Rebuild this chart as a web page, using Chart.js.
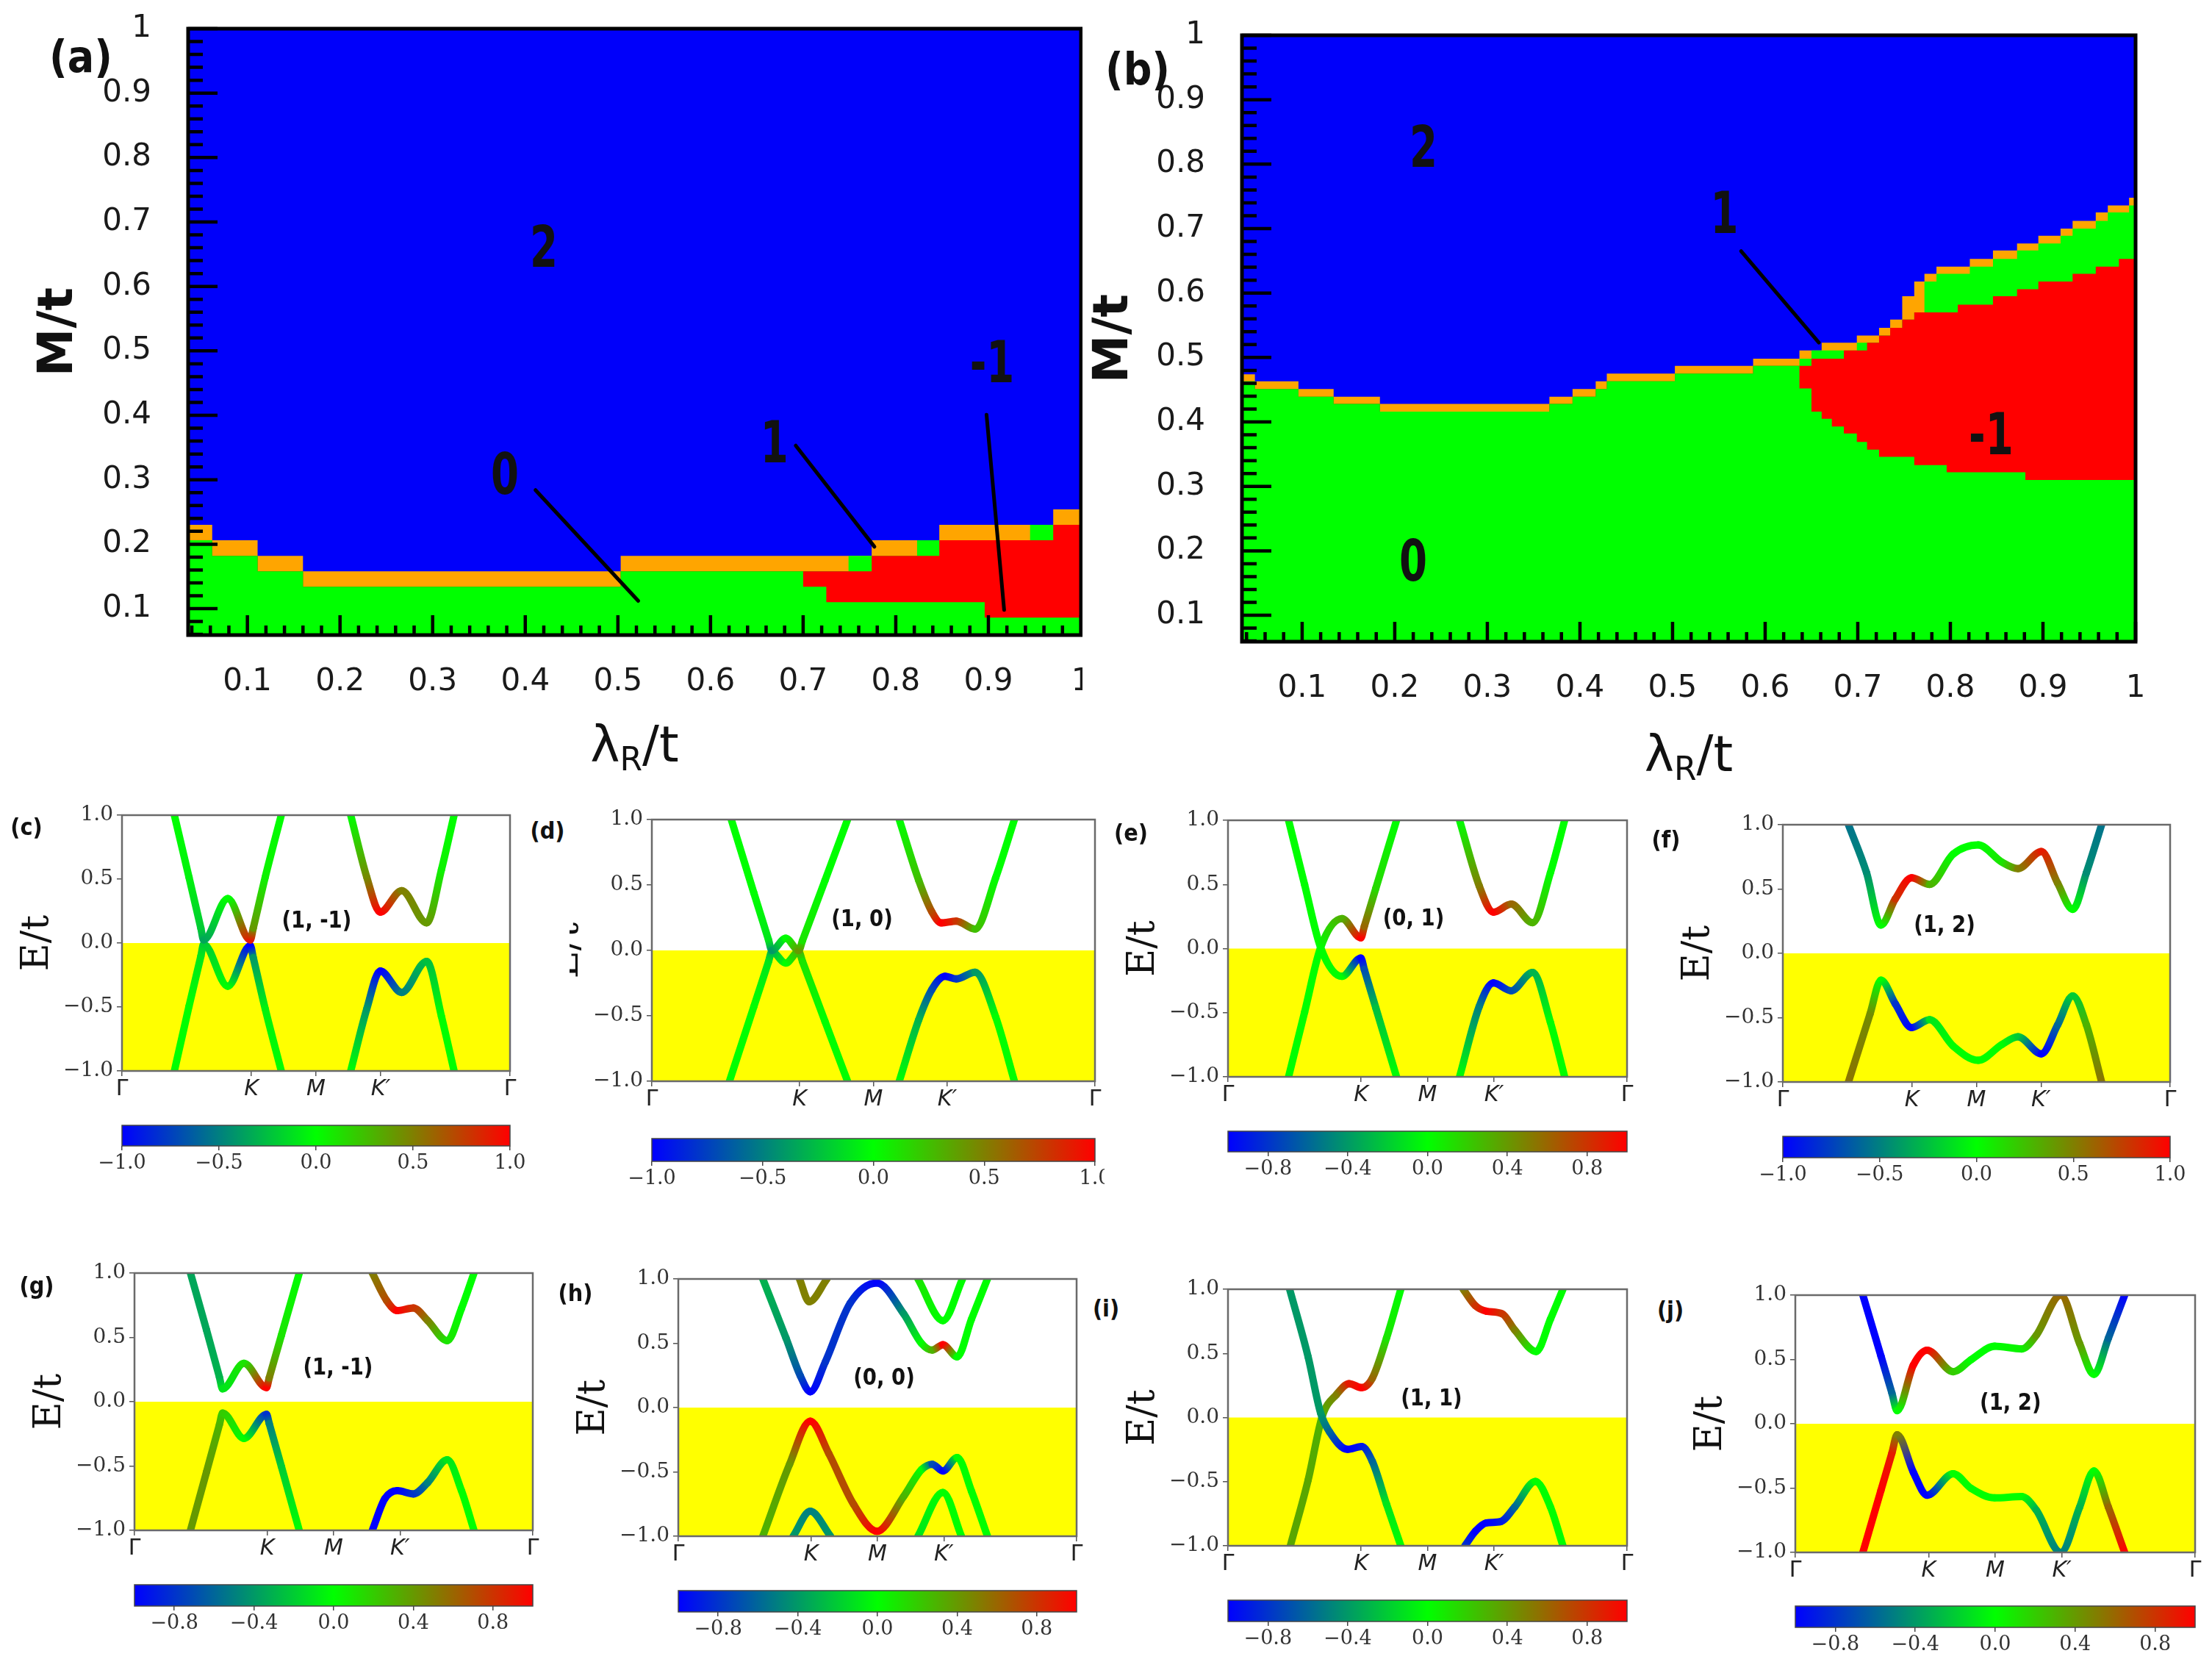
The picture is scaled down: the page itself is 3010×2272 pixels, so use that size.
<!DOCTYPE html>
<html>
<head>
<meta charset="utf-8">
<title>Chern phase diagrams and band structures</title>
<script src="https://cdn.jsdelivr.net/npm/chart.js@4.4.1/dist/chart.umd.min.js"></script>
<style>
  html, body { margin: 0; background: #fff; }
  #fig { position: relative; width: 3010px; height: 2272px; overflow: hidden; background: #fff; }
  #fig canvas { position: absolute; }
  .clip { position: absolute; overflow: hidden; }
  .tag { position: absolute; font-family: 'DejaVu Sans', sans-serif; font-weight: bold; line-height: 1;
         color: #111; white-space: nowrap; transform: translate(-50%, -50%) scaleX(0.9); }
</style>
</head>
<body>
<div id="fig"></div>
<script>
// ---------------- phase diagrams: column edges on lambda_R/t, and where each phase ends on M/t ----------------
const lambdaTicks = [0.1, 0.2, 0.3, 0.4, 0.5, 0.6, 0.7, 0.8, 0.9, 1];
const massTicks = [0.1, 0.2, 0.3, 0.4, 0.5, 0.6, 0.7, 0.8, 0.9, 1];
const massMax = [1.0];

// (a)
const aEdges     = [0.036, 0.062, 0.111, 0.160, 0.503, 0.700, 0.725, 0.749, 0.774, 0.823, 0.847, 0.896, 0.945, 0.970, 1.0];
const aC1Top     = [0.230, 0.206, 0.182, 0.158, 0.182, 0.182, 0.182, 0.182, 0.206, 0.206, 0.230, 0.230, 0.230, 0.254];
const aC0Top     = [0.206, 0.182, 0.158, 0.134, 0.158, 0.158, 0.158, 0.182, 0.182, 0.206, 0.206, 0.206, 0.230, 0.230];
const aCm1Top    = [0.206, 0.182, 0.158, 0.134, 0.158, 0.158, 0.158, 0.158, 0.182, 0.182, 0.206, 0.206, 0.206, 0.230];
const aCm1Bottom = [0.206, 0.182, 0.158, 0.134, 0.158, 0.134, 0.110, 0.110, 0.110, 0.110, 0.110, 0.086, 0.086, 0.086];
const aLeaders = [[[0.411, 0.284], [0.522, 0.112]], [[0.692, 0.353], [0.777, 0.196]], [[0.898, 0.401], [0.917, 0.098]]];
const aNotes = [['2', 0.42, 0.654], ['0', 0.378, 0.301], ['1', 0.669, 0.350], ['-1', 0.904, 0.474]];

// (b)
const bEdges = [0.035, 0.049, 0.096, 0.134, 0.184, 0.367, 0.392, 0.417, 0.429, 0.5025, 0.587,
  0.637, 0.650, 0.661, 0.672, 0.685, 0.699, 0.710, 0.723, 0.735, 0.748,
  0.761, 0.772, 0.785, 0.796, 0.808, 0.821, 0.846, 0.872, 0.881, 0.895,
  0.919, 0.932, 0.957, 0.970, 0.982, 0.993, 1.0];
const bC1Top = [0.474, 0.463, 0.451, 0.439, 0.428, 0.439, 0.451, 0.463, 0.475, 0.487, 0.498,
  0.511, 0.511, 0.523, 0.523, 0.523, 0.534, 0.534, 0.546, 0.559, 0.595,
  0.618, 0.630, 0.641, 0.641, 0.641, 0.653, 0.666, 0.677, 0.677, 0.689,
  0.700, 0.712, 0.725, 0.736, 0.736, 0.748];
const bC0Top = [0.463, 0.451, 0.439, 0.428, 0.416, 0.428, 0.439, 0.451, 0.463, 0.475, 0.487,
  0.498, 0.511, 0.511, 0.511, 0.511, 0.523, 0.523, 0.534, 0.546, 0.559,
  0.570, 0.618, 0.630, 0.630, 0.630, 0.641, 0.653, 0.666, 0.666, 0.677,
  0.689, 0.700, 0.712, 0.725, 0.725, 0.736];
const bCm1Top = [0.463, 0.451, 0.439, 0.428, 0.416, 0.428, 0.439, 0.451, 0.463, 0.475, 0.487,
  0.487, 0.498, 0.498, 0.498, 0.511, 0.511, 0.523, 0.534, 0.546, 0.559,
  0.570, 0.570, 0.570, 0.570, 0.582, 0.582, 0.595, 0.606, 0.606, 0.618,
  0.618, 0.630, 0.641, 0.641, 0.653, 0.653];
const bCm1Bottom = [0.463, 0.451, 0.439, 0.428, 0.416, 0.428, 0.439, 0.451, 0.463, 0.475, 0.487,
  0.452, 0.416, 0.405, 0.393, 0.382, 0.369, 0.357, 0.346, 0.346, 0.346,
  0.333, 0.333, 0.333, 0.322, 0.322, 0.322, 0.322, 0.322, 0.310, 0.310,
  0.310, 0.310, 0.310, 0.310, 0.310, 0.310];
const bLeaders = [[[0.574, 0.665], [0.658, 0.523]]];
const bNotes = [['2', 0.231, 0.819], ['0', 0.22, 0.177], ['1', 0.556, 0.716], ['-1', 0.844, 0.373]];

// ---------------- band structures: [k along Γ-K-M-K'-Γ, E/t, spin colour value] ----------------
const kTicks = [0, 2, 3, 4, 6];
const kLabels = ['Γ', 'K', 'M', 'K′', 'Γ'];
const eTicks = [-1, -0.5, 0, 0.5, 1];
const kPathEnds = [0, 6];
const fermiLevel = 0;
const cbarTicksWide = [-1, -0.5, 0, 0.5, 1];
const cbarTicksFine = [-0.8, -0.4, 0, 0.4, 0.8];

const c1 = [[0.81,1.0,0],[1.036,0.515,-0.05],[1.22,0.115,-0.2],[1.262,0.024,-0.35],[1.636,0.347,0],[1.984,0.024,0.9],[2.03,0.118,0.4],[2.215,0.515,0.05],[2.463,1.0,0]];
const c2 = [[0.81,-1.0,0],[1.036,-0.495,0],[1.22,-0.102,-0.1],[1.262,-0.01,-0.2],[1.636,-0.337,0],[1.984,-0.02,-1],[2.03,-0.114,-0.4],[2.215,-0.515,-0.05],[2.463,-1.0,0]];
const c3 = [[3.537,1.0,0],[3.785,0.515,0.45],[3.994,0.242,1],[4.325,0.41,0.5],[4.711,0.158,0.4],[4.94,0.574,0.05],[5.135,1.0,0]];
const c4 = [[3.537,-1.0,0],[3.785,-0.515,-0.4],[3.994,-0.218,-1],[4.325,-0.386,-0.5],[4.711,-0.143,-0.25],[4.94,-0.574,0],[5.135,-1.0,0]];

const d1 = [[1.076,1.0,0],[1.381,0.44,0],[1.58,0.08,-0.1],[1.624,0.0,-0.4],[1.812,0.093,0],[1.99,0.0,0.4],[2.04,0.076,0.1],[2.345,0.535,0],[2.65,1.0,0]];
const d2 = [[1.051,-1.0,0],[1.381,-0.43,0],[1.58,-0.086,-0.1],[1.624,-0.01,-0.3],[1.812,-0.097,0],[1.99,-0.01,0.3],[2.04,-0.085,0.1],[2.345,-0.543,0],[2.65,-1.0,0]];
const d3 = [[3.35,1.0,0],[3.614,0.535,0.25],[3.792,0.294,0.7],[3.919,0.21,1],[4.122,0.224,0.8],[4.376,0.163,0.25],[4.655,0.555,0],[4.909,1.0,0]];
const d4 = [[3.35,-1.0,0],[3.614,-0.529,-0.3],[3.792,-0.298,-0.7],[3.97,-0.198,-1],[4.122,-0.218,-0.8],[4.376,-0.167,-0.4],[4.655,-0.508,0],[4.909,-1.0,0]];

const e1 = [[0.911,-1.0,0],[1.152,-0.496,0],[1.393,0.008,0],[1.714,0.233,0.3],[1.998,0.084,1],[2.05,0.173,0.6],[2.223,0.47,0.15],[2.534,1.0,0]];
const e2 = [[0.911,1.0,0],[1.152,0.499,0],[1.393,0.008,0],[1.714,-0.217,0],[1.998,-0.074,-1],[2.05,-0.164,-0.7],[2.223,-0.463,-0.25],[2.534,-1.0,0]];
const e3 = [[3.482,1.0,0],[3.777,0.489,0.5],[3.991,0.284,1],[4.259,0.346,0.6],[4.58,0.202,0.3],[4.848,0.591,0],[5.062,1.0,0]];
const e4 = [[3.482,-1.0,0],[3.777,-0.452,-0.5],[3.991,-0.268,-1],[4.259,-0.329,-0.7],[4.58,-0.186,-0.3],[4.848,-0.575,0],[5.062,-1.0,0]];

const f1 = [[1.017,1.0,-0.55],[1.296,0.628,-0.45],[1.52,0.22,0],[1.743,0.424,0.8],[1.995,0.587,1],[2.274,0.536,0.3],[2.637,0.771,0],[3.028,0.843,0],[3.391,0.71,0.1],[3.643,0.659,0.5],[4.006,0.792,0.9],[4.257,0.546,0.5],[4.492,0.342,0],[4.704,0.628,-0.45],[4.939,1.0,-0.55]];
const f2 = [[1.017,-1.0,0.55],[1.352,-0.47,0.45],[1.52,-0.209,0],[1.743,-0.393,-0.8],[1.995,-0.577,-1],[2.274,-0.516,-0.1],[2.637,-0.72,0],[3.028,-0.832,0],[3.391,-0.71,0],[3.643,-0.648,-0.2],[4.006,-0.781,-1],[4.257,-0.557,-0.6],[4.492,-0.332,-0.2],[4.704,-0.557,0.3],[4.939,-1.0,0.55]];

const g1 = [[0.843,1.0,-0.35],[1.085,0.558,-0.35],[1.28,0.19,-0.3],[1.327,0.1,-0.1],[1.649,0.298,0.1],[1.988,0.11,1],[2.03,0.186,0.5],[2.213,0.516,0.1],[2.482,1.0,0]];
const g2 = [[0.843,-1.0,0.4],[1.085,-0.546,0.4],[1.28,-0.177,0.3],[1.327,-0.088,0.2],[1.649,-0.285,0],[1.988,-0.098,-0.8],[2.03,-0.17,-0.5],[2.213,-0.504,-0.2],[2.482,-1.0,0]];
const g3 = [[3.583,1.0,0.5],[3.798,0.787,0.7],[3.959,0.708,1],[4.201,0.729,0.8],[4.416,0.631,0.5],[4.711,0.475,0.1],[4.926,0.725,0],[5.114,1.0,0]];
const g4 = [[3.583,-1.0,-1],[3.771,-0.754,-1],[3.959,-0.692,-1],[4.201,-0.717,-0.8],[4.416,-0.629,-0.5],[4.711,-0.452,-0.1],[4.926,-0.692,0],[5.114,-1.0,0]];

const h1 = [[1.826,1.0,0.5],[1.972,0.823,0.5],[2.24,1.0,0.5]];
const h2 = [[1.273,1.0,-0.3],[1.622,0.541,-0.4],[1.837,0.248,-0.7],[1.988,0.123,-1],[2.213,0.353,-0.8],[2.589,0.812,-0.8],[2.992,0.969,-1],[3.395,0.729,-0.4],[3.664,0.499,0],[3.825,0.447,0.3],[3.986,0.489,1],[4.201,0.395,0],[4.416,0.687,0],[4.657,1.0,0]];
const h3 = [[3.61,1.0,0.1],[3.986,0.676,0],[4.281,1.0,0]];
const h4 = [[1.273,-1.0,0.3],[1.676,-0.441,0.4],[1.988,-0.106,1],[2.267,-0.357,0.7],[2.643,-0.754,0.7],[2.992,-0.962,1],[3.395,-0.691,0.3],[3.664,-0.482,0],[3.825,-0.441,-0.7],[3.986,-0.493,-1],[4.201,-0.388,0],[4.416,-0.649,0],[4.657,-1.0,0]];
const h5 = [[1.73,-1.0,-0.4],[1.988,-0.806,-0.5],[2.294,-1.0,-0.4]];
const h6 = [[3.61,-1.0,-0.1],[3.986,-0.66,0],[4.265,-1.0,0]];

const i1 = [[0.927,1.0,-0.4],[1.205,0.473,-0.4],[1.393,0.034,-0.4],[1.527,-0.112,-0.6],[1.795,-0.248,-1],[2.009,-0.227,-0.9],[2.17,-0.342,-0.6],[2.384,-0.676,-0.1],[2.598,-1.0,0]];
const i2 = [[0.938,-1.0,0.35],[1.205,-0.488,0.35],[1.42,0.014,0.3],[1.634,0.181,0.5],[1.821,0.264,0.9],[2.009,0.233,1],[2.17,0.306,0.6],[2.384,0.62,0.1],[2.598,1.0,0]];
const i3 = [[3.536,1.0,0.5],[3.723,0.87,0.8],[3.884,0.829,1],[4.125,0.808,0.8],[4.312,0.682,0.5],[4.634,0.515,0],[4.848,0.766,0],[5.036,1.0,0]];
const i4 = [[3.562,-1.0,-0.8],[3.723,-0.885,-1],[3.884,-0.822,-1],[4.098,-0.812,-0.9],[4.312,-0.697,-0.6],[4.623,-0.498,0],[4.848,-0.697,0],[5.036,-1.0,0]];

const j1 = [[1.014,1.0,-1],[1.285,0.527,-1],[1.45,0.238,-0.6],[1.528,0.102,0],[1.772,0.457,1],[1.978,0.572,1],[2.369,0.405,0.2],[2.64,0.499,0],[2.992,0.603,0],[3.398,0.582,0.05],[3.615,0.687,0.4],[3.984,1.0,0.6],[4.266,0.624,0.4],[4.482,0.384,0],[4.699,0.666,-0.6],[4.943,1.0,-1]];
const j2 = [[1.014,-1.0,1],[1.285,-0.518,1],[1.45,-0.227,0.9],[1.528,-0.086,0.5],[1.772,-0.378,-1],[1.978,-0.555,-1],[2.369,-0.388,0],[2.64,-0.503,0],[2.992,-0.576,0],[3.398,-0.566,0],[3.615,-0.67,-0.3],[3.984,-1.0,-0.5],[4.266,-0.649,-0.3],[4.482,-0.367,0],[4.699,-0.649,0.6],[4.943,-1.0,1]];

// ---------------- helpers ----------------
Chart.defaults.font.family = "'DejaVu Sans', sans-serif";
Chart.defaults.color = '#222';
const SERIF = "'DejaVu Serif', serif";
const BLUE = '#0000fa', GREEN = '#00ff00', RED = '#ff0000', ORANGE = '#ffa500';
const fig = document.getElementById('fig');

function cmap(v) {
  const t = Math.max(0, Math.min(1, (v + 1) / 2));
  let r, g, b;
  if (t < 0.5) { const u = t / 0.5; r = 0; g = 255 * u; b = 255 * (1 - u); }
  else { const u = (t - 0.5) / 0.5; r = 255 * u; g = 255 * (1 - u); b = 0; }
  return 'rgb(' + Math.round(r) + ',' + Math.round(g) + ',' + Math.round(b) + ')';
}
const fmt = v => (v < 0 ? '\u2212' : '') + Math.abs(v).toFixed(1);
const fixTicks = vals => axis => { axis.ticks = vals.map(v => ({ value: v })); };
const steps = (edges, vals) => edges.map((x, i) => ({ x, y: vals[Math.min(i, vals.length - 1)] }));

function addCanvas(left, top, w, h, clipLeft) {
  const cv = document.createElement('canvas');
  cv.width = w; cv.height = h;
  cv.style.width = w + 'px'; cv.style.height = h + 'px';
  if (clipLeft !== undefined && clipLeft > left) {
    const box = document.createElement('div');
    box.className = 'clip';
    box.style.left = clipLeft + 'px'; box.style.top = top + 'px';
    box.style.width = (left + w - clipLeft) + 'px'; box.style.height = h + 'px';
    cv.style.left = (left - clipLeft) + 'px'; cv.style.top = '0px';
    box.appendChild(cv); fig.appendChild(box);
  } else {
    cv.style.left = left + 'px'; cv.style.top = top + 'px';
    fig.appendChild(cv);
  }
  return cv;
}

function baseOptions(top, right, left) {
  return {
    responsive: false, animation: false, devicePixelRatio: 1, events: [],
    layout: { padding: { left: left || 0, top: top, right: right, bottom: 0 }, autoPadding: false },
    plugins: { legend: { display: false }, tooltip: { enabled: false } }
  };
}

// text placed at data coordinates
function notes(items, font, squeeze) {
  return {
    id: 'notes',
    afterDatasetsDraw(chart) {
      const { ctx, scales: { x, y } } = chart;
      ctx.save();
      ctx.fillStyle = '#111'; ctx.font = font; ctx.textAlign = 'center'; ctx.textBaseline = 'middle';
      items.forEach(n => {
        ctx.save();
        ctx.translate(x.getPixelForValue(n[1]), y.getPixelForValue(n[2]));
        ctx.scale(squeeze, 1);
        ctx.fillText(n[0], 0, 0);
        ctx.restore();
      });
      ctx.restore();
    }
  };
}

// inward ticks (0.02 minor, 0.1 major) and heavy frame of the phase diagrams
function inTicks() {
  return {
    id: 'inTicks',
    afterDatasetsDraw(chart) {
      const { ctx, chartArea: a, scales: { x, y } } = chart;
      ctx.save();
      ctx.strokeStyle = '#000'; ctx.lineWidth = 4.5;
      ctx.beginPath();
      for (let k = Math.ceil(x.min * 50 - 1e-6); k <= Math.floor(x.max * 50 + 1e-6); k++) {
        const px = x.getPixelForValue(k / 50), len = k % 5 === 0 ? 27 : 13;
        ctx.moveTo(px, a.bottom); ctx.lineTo(px, a.bottom - len);
      }
      for (let k = Math.ceil(y.min * 50 - 1e-6); k <= Math.floor(y.max * 50 + 1e-6); k++) {
        const py = y.getPixelForValue(k / 50), len = k % 5 === 0 ? 40 : 20;
        ctx.moveTo(a.left, py); ctx.lineTo(a.left + len, py);
      }
      ctx.stroke();
      ctx.lineWidth = 5;
      ctx.strokeRect(a.left, a.top, a.right - a.left, a.bottom - a.top);
      ctx.restore();
    }
  };
}

// x title with subscript: λ_R/t
function lambdaTitle(dy) {
  return {
    id: 'lambdaTitle',
    afterDraw(chart) {
      const { ctx, chartArea: a } = chart;
      const parts = [['λ', 68, 0], ['R', 44, 12], ['/t', 68, 0]];
      ctx.save();
      ctx.fillStyle = '#111'; ctx.textBaseline = 'alphabetic'; ctx.textAlign = 'left';
      const widths = parts.map(q => { ctx.font = q[1] + "px 'DejaVu Sans', sans-serif"; return ctx.measureText(q[0]).width; });
      let px = (a.left + a.right) / 2 - widths.reduce((s, w) => s + w, 0) / 2;
      parts.forEach((q, i) => {
        ctx.font = q[1] + "px 'DejaVu Sans', sans-serif";
        ctx.fillText(q[0], px, a.bottom + dy + q[2]);
        px += widths[i];
      });
      ctx.restore();
    }
  };
}

function frame(color, width) {
  return {
    id: 'frame',
    afterDatasetsDraw(chart) {
      const { ctx, chartArea: a } = chart;
      ctx.save(); ctx.strokeStyle = color; ctx.lineWidth = width;
      ctx.strokeRect(a.left, a.top, a.right - a.left, a.bottom - a.top);
      ctx.restore();
    }
  };
}

function gradientBar() {
  return {
    id: 'cbar',
    beforeDatasetsDraw(chart) {
      const { ctx, chartArea: a, scales: { x } } = chart;
      const g = ctx.createLinearGradient(x.getPixelForValue(-1), 0, x.getPixelForValue(1), 0);
      [-1, 0, 1].forEach(v => g.addColorStop((v + 1) / 2, cmap(v)));
      ctx.save();
      ctx.fillStyle = g; ctx.fillRect(a.left, a.top, a.right - a.left, a.bottom - a.top);
      ctx.strokeStyle = '#444'; ctx.lineWidth = 1.5;
      ctx.strokeRect(a.left, a.top, a.right - a.left, a.bottom - a.top);
      ctx.restore();
    }
  };
}

function spinColor(pts) {
  return c => {
    const g = c.chart.ctx.createLinearGradient(c.p0.x, c.p0.y, c.p1.x, c.p1.y);
    g.addColorStop(0, cmap(pts[c.p0DataIndex][2]));
    g.addColorStop(1, cmap(pts[c.p1DataIndex][2]));
    return g;
  };
}

// ---------------- phase diagram chart ----------------
function phaseChart(p) {
  const [x0, y0, x1, y1] = p.plot;
  const L = x0 - p.left, T = 30, R = p.right - x1, B = 210;
  const cv = addCanvas(p.left, y0 - T, p.right - p.left, T + (y1 - y0) + B);
  const layer = (vals, color) => ({
    data: steps(p.edges, vals), showLine: true, stepped: true, pointRadius: 0,
    borderWidth: 0, borderColor: 'rgba(0,0,0,0)', backgroundColor: color, fill: 'start'
  });
  const leader = pts => ({
    data: pts.map(q => ({ x: q[0], y: q[1] })), showLine: true, pointRadius: 0,
    borderWidth: 5, borderColor: '#000', borderCapStyle: 'round', fill: false
  });
  // first datasets are painted last: bottom layers sit on top of the upper ones
  const datasets = [
    ...p.leaders.map(leader),
    layer(p.cm1Bottom, GREEN),
    layer(p.cm1Top, RED),
    layer(p.c0Top, GREEN),
    layer(p.c1Top, ORANGE),
    layer(massMax, BLUE)
  ];
  const tickLabel = v => (v === 1 ? '1' : v.toFixed(1));
  const opts = baseOptions(T, R);
  opts.scales = {
    x: { type: 'linear', min: p.xMin, max: 1.0, afterBuildTicks: fixTicks(lambdaTicks),
         afterFit: s => { s.height = B; s.paddingLeft = 0; s.paddingRight = 0; },
         grid: { display: false, drawTicks: false }, border: { display: false },
         ticks: { autoSkip: false, maxRotation: 0, padding: 39, font: { size: 42 }, color: '#1a1a1a', callback: tickLabel } },
    y: { type: 'linear', min: 0.059, max: 1.0, afterBuildTicks: fixTicks(massTicks),
         afterFit: s => { s.width = L; s.paddingTop = 0; s.paddingBottom = 0; },
         grid: { display: false, drawTicks: false }, border: { display: false },
         title: { display: true, text: 'M/t', font: { size: 66, weight: 'bold' }, color: '#111', padding: 0 },
         ticks: { autoSkip: false, padding: 50, font: { size: 42 }, color: '#1a1a1a', callback: tickLabel } }
  };
  new Chart(cv, {
    type: 'scatter', data: { datasets }, options: opts,
    plugins: [inTicks(), notes(p.notes, "bold 78px 'DejaVu Sans', sans-serif", 0.7), lambdaTitle(p.titleDy)]
  });
}

// ---------------- band structure chart + colour bar ----------------
function bandChart(p) {
  const [x0, y0, x1, y1] = p.plot;
  const L = 146, T = 22, R = 20, B = 50;
  const cv = addCanvas(x0 - L, y0 - T, L + (x1 - x0) + R, T + (y1 - y0) + B, p.clipLeft);
  const datasets = p.bands.map(pts => ({
    data: pts.map(q => ({ x: q[0], y: q[1] })),
    showLine: true, pointRadius: 0, borderWidth: 10, borderCapStyle: 'round', borderJoinStyle: 'round',
    cubicInterpolationMode: 'monotone', clip: 0, fill: false,
    segment: { borderColor: spinColor(pts) }
  }));
  datasets.push({
    data: kPathEnds.map(k => ({ x: k, y: fermiLevel })), showLine: true, pointRadius: 0,
    borderWidth: 0, borderColor: 'rgba(0,0,0,0)', backgroundColor: '#ffff00', fill: 'start', clip: 0
  });
  const opts = baseOptions(T, R);
  opts.scales = {
    x: { type: 'linear', min: 0, max: 6, afterBuildTicks: fixTicks(kTicks),
         afterFit: s => { s.height = B; s.paddingLeft = 0; s.paddingRight = 0; },
         grid: { drawOnChartArea: false, drawTicks: true, tickLength: 7, color: '#555', lineWidth: 1.5 },
         border: { display: false },
         ticks: { autoSkip: false, maxRotation: 0, padding: 0, color: '#222',
                  font: c => ({ size: 30, style: (c.index === 0 || c.index === kTicks.length - 1) ? 'normal' : 'italic' }),
                  callback: (v, i) => kLabels[i] } },
    y: { type: 'linear', min: -1, max: 1, afterBuildTicks: fixTicks(eTicks),
         afterFit: s => { s.width = L; s.paddingTop = 0; s.paddingBottom = 0; },
         grid: { drawOnChartArea: false, drawTicks: true, tickLength: 7, color: '#555', lineWidth: 1.5 },
         border: { display: false },
         title: { display: true, text: 'E/t', font: { family: SERIF, size: 52 }, color: '#111', padding: 0 },
         ticks: { autoSkip: false, padding: 5, color: '#333', font: { family: SERIF, size: 28 }, callback: fmt } }
  };
  new Chart(cv, {
    type: 'scatter', data: { datasets }, options: opts,
    plugins: [frame('#6a6a6a', 2.5), notes([p.tag], "bold 32px 'DejaVu Sans', sans-serif", 0.86)]
  });
}

function colorBar(rect, ticks, clipRight) {
  const [x0, y0, x1, y1] = rect;
  const L = 45, T = 4, B = 46;
  const R = clipRight ? clipRight - x1 : 45;
  const cv = addCanvas(x0 - L, y0 - T, L + (x1 - x0) + R, T + (y1 - y0) + B);
  const opts = baseOptions(T, R, L);
  opts.scales = {
    x: { type: 'linear', min: -1, max: 1, afterBuildTicks: fixTicks(ticks),
         afterFit: s => { s.height = B; s.paddingLeft = 0; s.paddingRight = 0; },
         grid: { drawOnChartArea: false, drawTicks: true, tickLength: 6, color: '#444', lineWidth: 1.5 },
         border: { display: false },
         ticks: { autoSkip: false, maxRotation: 0, padding: 2, color: '#333', font: { family: SERIF, size: 27 }, callback: fmt } },
    y: { display: false, min: 0, max: 1 }
  };
  new Chart(cv, { type: 'scatter', data: { datasets: [] }, options: opts, plugins: [gradientBar()] });
}

// ---------------- layout ----------------
phaseChart({ plot: [256, 39, 1471, 864], left: 41, right: 1473, xMin: 0.036, edges: aEdges,
  c1Top: aC1Top, c0Top: aC0Top, cm1Top: aCm1Top, cm1Bottom: aCm1Bottom,
  leaders: aLeaders, notes: aNotes, titleDy: 172 });
phaseChart({ plot: [1690, 48, 2906, 873], left: 1477, right: 2936, xMin: 0.035, edges: bEdges,
  c1Top: bC1Top, c0Top: bC0Top, cm1Top: bCm1Top, cm1Bottom: bCm1Bottom,
  leaders: bLeaders, notes: bNotes, titleDy: 176 });

const bandPanels = [
  { plot: [166, 1109, 694, 1457],   bands: [c1, c2, c3, c4], tag: ['(1, -1)', 3.01, 0.167], cbar: [166, 1531, 694, 1559], cbTicks: cbarTicksWide },
  { plot: [887, 1115, 1490, 1471],  bands: [d1, d2, d3, d4], tag: ['(1, 0)', 2.846, 0.23], cbar: [887, 1549, 1490, 1580], cbTicks: cbarTicksWide, clipLeft: 775, cbClip: 1503 },
  { plot: [1671, 1116, 2214, 1465], bands: [e1, e2, e3, e4], tag: ['(0, 1)', 2.79, 0.226], cbar: [1671, 1539, 2214, 1567], cbTicks: cbarTicksFine },
  { plot: [2426, 1122, 2953, 1472], bands: [f1, f2], tag: ['(1, 2)', 2.505, 0.211], cbar: [2426, 1546, 2953, 1575], cbTicks: cbarTicksWide },
  { plot: [183, 1732, 725, 2082],   bands: [g1, g2, g3, g4], tag: ['(1, -1)', 3.066, 0.257], cbar: [183, 2156, 725, 2185], cbTicks: cbarTicksFine },
  { plot: [923, 1740, 1465, 2090],  bands: [h1, h2, h3, h4, h5, h6], tag: ['(0, 0)', 3.1, 0.223], cbar: [923, 2164, 1465, 2193], cbTicks: cbarTicksFine },
  { plot: [1671, 1754, 2214, 2103], bands: [i1, i2, i3, i4], tag: ['(1, 1)', 3.06, 0.14], cbar: [1671, 2177, 2214, 2206], cbTicks: cbarTicksFine },
  { plot: [2443, 1762, 2987, 2112], bands: [j1, j2], tag: ['(1, 2)', 3.23, 0.154], cbar: [2443, 2185, 2987, 2214], cbTicks: cbarTicksFine }
];
bandPanels.forEach(p => {
  bandChart(p);
  colorBar(p.cbar, p.cbTicks, p.cbClip);
});

const panelTags = [['(a)', 110, 77, 60], ['(b)', 1548, 94, 60], ['(c)', 36, 1125, 32], ['(d)', 745, 1130, 32],
  ['(e)', 1539, 1133, 32], ['(f)', 2267, 1142, 32], ['(g)', 50, 1749, 32], ['(h)', 783, 1759, 32],
  ['(i)', 1505, 1780, 32], ['(j)', 2273, 1782, 32]];
panelTags.forEach(([t, x, y, s]) => {
  const d = document.createElement('div');
  d.className = 'tag'; d.textContent = t;
  d.style.left = x + 'px'; d.style.top = y + 'px'; d.style.fontSize = s + 'px';
  fig.appendChild(d);
});
</script>
</body>
</html>
